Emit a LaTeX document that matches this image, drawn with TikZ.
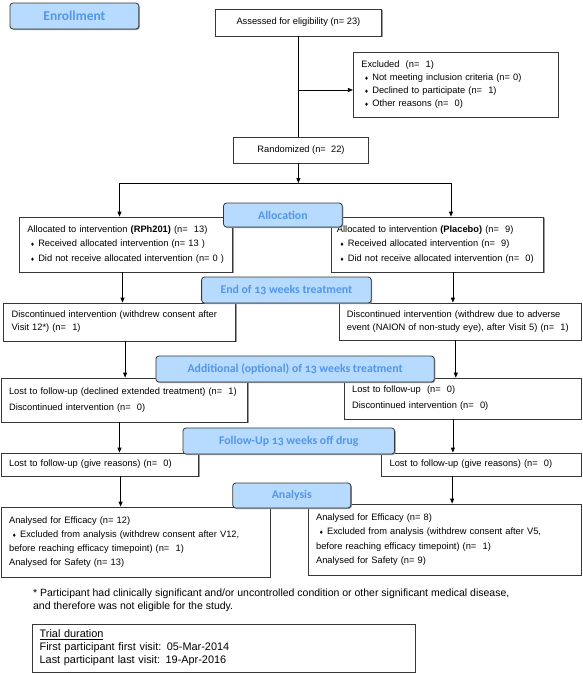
\documentclass[tikz,border=0pt]{standalone}
\usepackage{fontspec}
\setmainfont{Liberation Sans}
\newfontfamily\headfont{Carlito}[Numbers=OldStyle]
\newfontfamily\symfont{DejaVu Sans}
\usetikzlibrary{arrows.meta,shadows}
\definecolor{headfill}{RGB}{182,219,255}
\definecolor{headtext}{RGB}{84,150,230}
\definecolor{edgegray}{RGB}{55,55,55}
\newcommand\bul{\hspace*{3pt}{\symfont\fontsize{5}{5}\selectfont\symbol{"2666}}\hspace{3.5pt}}

\begin{document}
\begin{tikzpicture}[x=1pt, y=-1pt, line width=0.8pt, >={Triangle[length=5pt,width=4pt]},
  box/.style = {draw=edgegray, fill=white, align=left, inner xsep=8pt, inner ysep=0pt,
    drop shadow={shadow xshift=1pt, shadow yshift=-1pt, fill=black!40, opacity=1},
    font=\fontsize{9.3}{#1}\selectfont},
  box/.default = 14,
  head/.style = {draw=edgegray, fill=headfill, rounded corners=3pt, text=headtext, inner sep=0pt,
    drop shadow={shadow xshift=1pt, shadow yshift=-1pt, fill=black!40, opacity=1},
    font=\headfont\bfseries\fontsize{11.8}{13}\selectfont}]
\useasboundingbox (0,0) rectangle (582,675);

\node[box, align=center, minimum width=166.3, minimum height=27] (1) at (298.4,22.5) {Assessed for eligibility (n= 23)};
\node[box=13, text width=189, minimum height=65] (2) at (455.8,84.5)
  {Excluded~ (n=~~1)\\ \bul Not meeting inclusion criteria (n= 0)\\ \bul Declined to participate (n=~~1)\\ \bul Other reasons (n=~~0)};
\node[box, align=center, minimum width=134.3, minimum height=26] (3) at (301,150) {Randomized (n=~~22)};
\node[box=14.5, text width=197.4, minimum height=55] (4) at (126,244.5)
  {Allocated to intervention \textbf{(RPh201)} (n=~~13)\\ \bul Received allocated intervention (n= 13 )\\ \bul Did not receive allocated intervention (n= 0 )};
\node[box=14.5, text width=201.3, minimum height=55, inner xsep=5.5pt] (5) at (437.6,244.5)
  {Allocated to intervention \textbf{(Placebo)} (n=~~9)\\ \bul Received allocated intervention (n=~~9)\\ \bul Did not receive allocated intervention (n=~~0)};
\node[box=13, text width=216, minimum height=38] (6) at (119.7,322)
  {Discontinued intervention (withdrew consent after\\ Visit 12*) (n=~~1)};
\node[box=13, text width=226, minimum height=37] (7) at (459.9,321.5)
  {Discontinued intervention (withdrew due to adverse\\ event (NAION of non-study eye), after Visit 5) (n=~~1)};
\node[box=16, text width=230.5, minimum height=44] (8) at (124.3,400)
  {Lost to follow-up (declined extended treatment) (n=~~1)\\ Discontinued intervention (n=~~0)};
\node[box=16, text width=220.8, minimum height=41] (9) at (462.5,398.5)
  {Lost to follow-up~ (n=~~0)\\ Discontinued intervention (n=~~0)};
\node[box, text width=181.5, minimum height=23] (10) at (99.9,464.5) {Lost to follow-up (give reasons) (n=~~0)};
\node[box, text width=183.3, minimum height=23] (11) at (481.3,464.5) {Lost to follow-up (give reasons) (n=~~0)};
\node[box=14.2, text width=252.8, minimum height=70] (12) at (135.5,542)
  {Analysed for Efficacy (n= 12)\\ \bul Excluded from analysis (withdrew consent after V12,\\ before reaching efficacy timepoint) (n=~~1)\\ Analysed for Safety (n= 13)};
\node[box=14.2, text width=256.8, minimum height=71] (13) at (444.5,539.5)
  {Analysed for Efficacy (n= 8)\\ \bul Excluded from analysis (withdrew consent after V5,\\ before reaching efficacy timepoint) (n=~~1)\\ Analysed for Safety (n= 9)};
\node[anchor=north west, inner sep=0pt, align=left, font=\fontsize{10.5}{13.3}\selectfont] (note) at (32.7,588.5)
  {* Participant had clinically significant and/or uncontrolled condition or other significant medical disease,\\ and therefore was not eligible for the study.};
\node[box=13, text width=368.3, inner xsep=7pt, minimum height=48, font=\fontsize{10.9}{13}\selectfont] (14) at (223.8,648)
  {\underline{Trial duration}\\ First participant first visit: 05-Mar-2014\\ Last participant last visit: 19-Apr-2016};

% connectors
\coordinate (e) at (298.4,90);
\coordinate (s) at (298.4,183);
\coordinate (sl) at (119.5,183);
\coordinate (sr) at (451,183);
\draw (1) -- (1 |- 3.north);
\draw[->] (e) -- (e -| 2.west);
\draw[->] (3.south -| s) -- (s);
\draw (sl) -- (sr);
\draw[->] (sl) -- (sl |- 4.north);
\draw[->] (sr) -- (sr |- 5.north);
\path[->] ([xshift=-3.5]4.south) edge ([xshift=-3.5]4.south |- 6.north);
\path[->] ([xshift=15.3]5.south) edge ([xshift=15.3]5.south |- 7.north);
\path[->] ([xshift=5.4]6.south) edge ([xshift=5.4]6.south |- 8.north);
\path[->] ([xshift=-4.1]7.south) edge ([xshift=-4.1]7.south |- 9.north);
\path[->] ([xshift=-4.8]8.south) edge ([xshift=-4.8]8.south |- 10.north);
\path[->] ([xshift=-9.6]9.south) edge ([xshift=-9.6]9.south |- 11.north);
\path[->] ([xshift=20.7]10.south) edge ([xshift=20.7]10.south |- 12.north);
\path[->] ([xshift=-29.2]11.south) edge ([xshift=-29.2]11.south |- 13.north);

% stage headings
\node[head, minimum width=128.8, minimum height=26, font=\headfont\bfseries\fontsize{13.5}{15}\selectfont] (enrol) at (74.4,16) {Enrollment};
\node[head, minimum width=118.7, minimum height=24] (alloc) at (282.9,215) {Allocation};
\node[head, minimum width=169.6, minimum height=26] (end) at (286.4,290) {End of 13 weeks treatment};
\node[head, minimum width=278.4, minimum height=26] (extra) at (295.1,369) {Additional (optional) of 13 weeks treatment};
\node[head, minimum width=211.6, minimum height=26] (follow) at (288.8,441) {Follow-Up 13 weeks off drug};
\node[head, minimum width=118.1, minimum height=25] (anal) at (291.8,495.5) {Analysis};
\end{tikzpicture}
\end{document}
